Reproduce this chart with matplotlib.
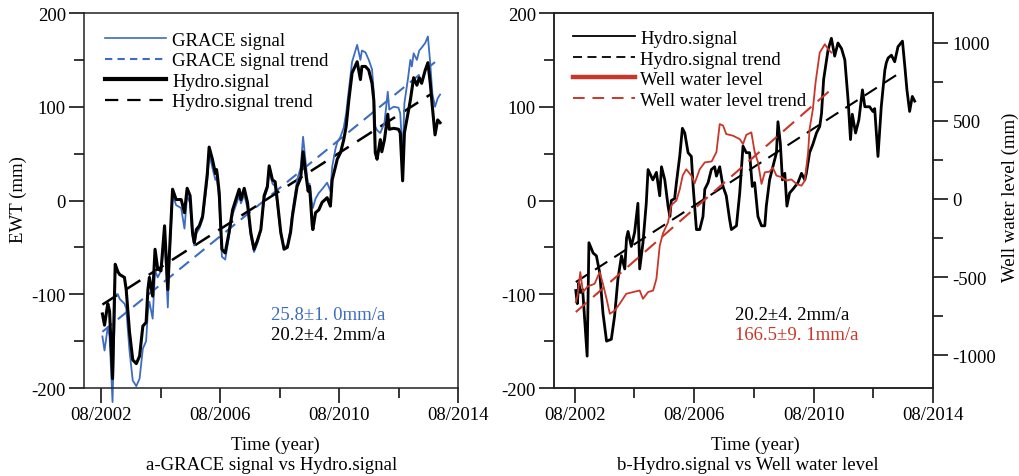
import matplotlib
matplotlib.use("Agg")
import matplotlib.pyplot as plt
from matplotlib.lines import Line2D
from matplotlib.ticker import FixedLocator, MultipleLocator

plt.rcParams['font.family'] = ['Liberation Serif', 'DejaVu Serif']
plt.rcParams['axes.unicode_minus'] = False

# ---- panel a: GRACE signal vs Hydro.signal (decimal years) ----
t_a = [2002.62, 2002.69, 2002.80, 2002.86, 2002.96, 2003.05, 2003.14, 2003.20, 2003.36, 2003.42,
       2003.53, 2003.64, 2003.76, 2003.87, 2003.98, 2004.09, 2004.15, 2004.20, 2004.31, 2004.39,
       2004.48, 2004.59, 2004.71, 2004.82, 2004.87, 2004.98, 2005.10, 2005.27, 2005.38, 2005.47,
       2005.57, 2005.65, 2005.71, 2005.78, 2005.88, 2005.99, 2006.15, 2006.21, 2006.32, 2006.42,
       2006.46, 2006.49, 2006.55, 2006.61, 2006.64, 2006.75, 2006.88, 2007.00, 2007.11, 2007.22,
       2007.28, 2007.39, 2007.50, 2007.61, 2007.72, 2007.83, 2007.95, 2008.06, 2008.17, 2008.23,
       2008.34, 2008.43, 2008.50, 2008.62, 2008.73, 2008.84, 2008.95, 2009.01, 2009.17, 2009.29,
       2009.37, 2009.46, 2009.54, 2009.59, 2009.68, 2009.70, 2009.79, 2009.90, 2010.01, 2010.18,
       2010.29, 2010.35, 2010.46, 2010.52, 2010.63, 2010.74, 2010.82, 2010.91, 2011.02, 2011.19,
       2011.30, 2011.35, 2011.47, 2011.58, 2011.69, 2011.75, 2011.80, 2011.86, 2011.97, 2012.02,
       2012.11, 2012.22, 2012.27, 2012.42, 2012.58, 2012.64, 2012.72, 2012.78, 2012.90, 2012.98,
       2013.03, 2013.09, 2013.20, 2013.28, 2013.36, 2013.48, 2013.57, 2013.65, 2013.72, 2013.81,
       2013.90, 2013.98]
hydro_a = [-121, -133, -110, -118, -190, -68, -76, -79, -82, -95,
           -140, -170, -174, -166, -134, -130, -95, -82, -102, -52,
           -73, -75, -27, -95, -59, 12, 1, 1, -13, 13,
           5, -34, -45, -31, -27, -17, 29, 57, 44, 29,
           33, 26, 8, -34, -52, -56, -34, -10, 1, 12,
           1, 13, -2, -34, -52, -43, -31, 5, 15, 37,
           22, 20, 1, -34, -52, -50, -34, -17, 15, 24,
           52, 29, 10, 15, -27, -31, -13, -10, -2, 3,
           -6, 22, 36, 44, 51, 65, 79, 107, 136, 148,
           129, 143, 143, 139, 125, 107, 51, 44, 65, 52,
           65, 92, 76, 77, 76, 72, 21, 72, 93, 107,
           118, 131, 123, 131, 125, 139, 147, 125, 100, 70,
           86, 83]
grace_a = [-145, -160, -135, -145, -215, -100, -100, -105, -110, -115,
           -160, -192, -198, -190, -158, -150, -118, -108, -126, -75,
           -82, -75, -41, -114, -66, 6, -5, -8, -30, 5,
           -3, -38, -48, -35, -30, -20, 22, 50, 35, 22,
           25, 18, 0, -40, -60, -63, -38, -15, -5, 5,
           -3, 6, -8, -38, -55, -46, -32, 2, 12, 33,
           18, 15, -3, -36, -50, -48, -30, -12, 22, 35,
           68, 40, 15, 18, -5, -8, 2, 8, 12, 19,
           10, 36, 55, 62, 68, 78, 93, 118, 148, 166,
           150, 160, 158, 150, 140, 115, 79, 75, 72, 76,
           83, 116, 97, 100, 99, 93, 47, 104, 130, 150,
           143, 157, 150, 160, 163, 168, 175, 146, 114, 100,
           109, 113]
grace_trend_t = [2002.62, 2013.98]
grace_trend_v = [-140, 152]
hydro_trend_a_t = [2002.62, 2013.65]
hydro_trend_a_v = [-111, 113]

# ---- panel b: Hydro.signal vs Well water level ----
t_b = [2002.62, 2002.67, 2002.72, 2002.78, 2002.85, 2003.00, 2003.06, 2003.20, 2003.31, 2003.42,
       2003.53, 2003.65, 2003.81, 2003.92, 2004.03, 2004.15, 2004.26, 2004.32, 2004.37, 2004.48,
       2004.59, 2004.70, 2004.76, 2004.87, 2004.98, 2005.04, 2005.20, 2005.32, 2005.43, 2005.49,
       2005.60, 2005.71, 2005.77, 2005.82, 2005.93, 2005.99, 2006.10, 2006.19, 2006.27, 2006.38,
       2006.49, 2006.55, 2006.66, 2006.77, 2006.88, 2006.94, 2007.05, 2007.16, 2007.27, 2007.33,
       2007.44, 2007.55, 2007.66, 2007.77, 2007.83, 2008.00, 2008.11, 2008.22, 2008.33, 2008.44,
       2008.53, 2008.61, 2008.72, 2008.84, 2008.95, 2009.00, 2009.11, 2009.22, 2009.34, 2009.39,
       2009.47, 2009.54, 2009.62, 2009.69, 2009.78, 2009.89, 2010.06, 2010.18, 2010.29, 2010.34,
       2010.45, 2010.56, 2010.68, 2010.79, 2010.85, 2010.92, 2011.07, 2011.18, 2011.29, 2011.40,
       2011.52, 2011.63, 2011.74, 2011.82, 2011.88, 2011.99, 2012.10, 2012.22, 2012.30, 2012.46,
       2012.57, 2012.63, 2012.74, 2012.85, 2012.97, 2013.02, 2013.08, 2013.19, 2013.30, 2013.41,
       2013.56, 2013.64, 2013.71, 2013.80, 2013.89, 2013.97]
hydro_b = [-96, -110, -88, -98, -95, -166, -45, -56, -59, -77,
           -120, -150, -148, -123, -84, -59, -73, -40, -33, -49,
           -34, -3, -73, -45, -3, 33, 22, 30, 5, 36,
           22, -6, -17, 0, 2, 19, 47, 77, 72, 51,
           47, 15, -31, -31, -17, 12, 19, 33, 36, 26,
           36, 15, 5, -20, -31, -27, 8, 58, 51, 51,
           15, 19, -17, -27, -27, -6, 22, 36, 51, 84,
           61, 22, 29, -6, 8, 12, 19, 29, 22, 29,
           51, 60, 72, 79, 93, 129, 161, 173, 154, 168,
           162, 150, 107, 65, 92, 72, 86, 118, 100, 100,
           95, 98, 47, 100, 139, 147, 152, 155, 148, 164,
           170, 143, 118, 95, 111, 106]
hydro_trend_b_t = [2002.62, 2013.56]
hydro_trend_b_v = [-87, 138]

t_well = [2002.62, 2002.68, 2002.77, 2002.86, 2003.02, 2003.25, 2003.42, 2003.53, 2003.65, 2003.76,
          2003.92, 2004.09, 2004.31, 2004.54, 2004.76, 2004.87, 2005.04, 2005.21, 2005.32, 2005.43,
          2005.54, 2005.71, 2005.82, 2005.99, 2006.10, 2006.20, 2006.32, 2006.49, 2006.60, 2006.77,
          2006.94, 2007.17, 2007.33, 2007.44, 2007.55, 2007.66, 2007.88, 2008.11, 2008.22, 2008.33,
          2008.50, 2008.61, 2008.72, 2008.84, 2008.95, 2009.11, 2009.22, 2009.34, 2009.50, 2009.67,
          2009.84, 2010.01, 2010.18, 2010.29, 2010.40, 2010.45, 2010.56, 2010.65, 2010.79, 2010.96,
          2011.07, 2011.18]
well = [-660, -618, -468, -596, -560, -543, -468, -545, -639, -735,
        -715, -671, -607, -596, -586, -639, -596, -586, -511, -300,
        -220, -149, -40, -10, 60, 150, 190, 149, 100, 190,
        234, 240, 300, 479, 470, 415, 405, 383, 351, 410,
        426, 300, 236, 96, 170, 175, 200, 149, 140, 117,
        125, 96, 85, 117, 298, 447, 575, 745, 937, 990,
        958, 937]
well_trend_t = [2002.62, 2011.18]
well_trend_v = [-724, 702]

x_major = [2002.583, 2006.583, 2010.583, 2014.583]
x_minor = [2004.583, 2008.583, 2012.583]
x_labels = ['08/2002', '08/2006', '08/2010', '08/2014']

BLUE = '#3d6cc0'
RED = '#c8372a'
FS = 13.5


def style_axes(ax, xlo):
    ax.set_xlim(xlo, 2014.583)
    ax.set_ylim(-200, 200)
    ax.xaxis.set_major_locator(FixedLocator(x_major))
    ax.xaxis.set_minor_locator(FixedLocator(x_minor))
    ax.set_xticklabels(x_labels)
    ax.yaxis.set_major_locator(MultipleLocator(100))
    ax.yaxis.set_minor_locator(MultipleLocator(50))
    ax.tick_params(which='major', direction='out', length=11, width=1.1, labelsize=FS, pad=2)
    ax.tick_params(which='minor', direction='out', length=7, width=1.1)
    ax.tick_params(axis='y', which='both', right=False)
    for s in ax.spines.values():
        s.set_linewidth(1.1)
        s.set_color('#222222')


fig = plt.figure(figsize=(10.19, 4.77), dpi=100)
ax1 = fig.add_axes([84 / 1019, 88 / 477, 374 / 1019, 375 / 477])
ax2 = fig.add_axes([554 / 1019, 88 / 477, 379 / 1019, 375 / 477])

# panel a
ax1.plot(grace_trend_t, grace_trend_v, color=BLUE, lw=1.5, dashes=(6, 3.5))
ax1.plot(hydro_trend_a_t, hydro_trend_a_v, color='black', lw=1.8, dashes=(7, 4))
ax1.plot(t_a, grace_a, color=BLUE, lw=1.3, clip_on=False)
ax1.plot(t_a, hydro_a, color='black', lw=2.2)
style_axes(ax1, 2002.0)
h1 = [Line2D([], [], color=BLUE, lw=1.2),
      Line2D([], [], color=BLUE, lw=1.5, dashes=(3.5, 2.5)),
      Line2D([], [], color='black', lw=3),
      Line2D([], [], color='black', lw=1.6, dashes=(6, 4))]
ax1.legend(h1, ['GRACE signal', 'GRACE signal trend', 'Hydro.signal', 'Hydro.signal trend'],
           loc='upper left', bbox_to_anchor=(0.055, 0.95), frameon=False, fontsize=FS,
           handlelength=3.3, handletextpad=0.3, labelspacing=0.18, borderpad=0, borderaxespad=0)
ax1.text(2008.28, -122, '25.8±1. 0mm/a', color=BLUE, fontsize=FS, va='center')
ax1.text(2008.28, -143, '20.2±4. 2mm/a', color='black', fontsize=FS, va='center')

# panel b
ax2.plot(hydro_trend_b_t, hydro_trend_b_v, color='black', lw=1.5, dashes=(7, 4))
ax2.plot(t_b, hydro_b, color='black', lw=2.0)
style_axes(ax2, 2001.89)
axr = ax2.twinx()
axr.plot(well_trend_t, well_trend_v, color=RED, lw=1.5, dashes=(7, 4))
axr.plot(t_well, well, color=RED, lw=1.3)
axr.set_ylim(-1210, 1190)
axr.yaxis.set_major_locator(MultipleLocator(500))
axr.yaxis.set_minor_locator(MultipleLocator(250))
axr.tick_params(which='major', direction='out', length=11, width=1.1, labelsize=FS, pad=3)
axr.tick_params(which='minor', direction='out', length=7, width=1.1)
for s in axr.spines.values():
    s.set_linewidth(1.1)
    s.set_color('#222222')
h2 = [Line2D([], [], color='black', lw=1.3),
      Line2D([], [], color='black', lw=1.3, dashes=(5, 3)),
      Line2D([], [], color=RED, lw=3.2),
      Line2D([], [], color=RED, lw=1.4, dashes=(6, 4))]
axr.legend(h2, ['Hydro.signal', 'Hydro.signal trend', 'Well water level', 'Well water level trend'],
           loc='upper left', bbox_to_anchor=(0.05, 0.955), frameon=False, fontsize=FS,
           handlelength=3.3, handletextpad=0.3, labelspacing=0.18, borderpad=0, borderaxespad=0)
ax2.text(2007.94, -122, '20.2±4. 2mm/a', color='black', fontsize=FS, va='center')
ax2.text(2007.94, -143, '166.5±9. 1mm/a', color=RED, fontsize=FS, va='center')

# labels
fig.text(18 / 1019, 1 - 200 / 477, 'EWT (mm)', rotation=90, ha='center', va='center', fontsize=FS)
fig.text(1010 / 1019, 1 - 197 / 477, 'Well water level (mm)', rotation=90, ha='center', va='center', fontsize=FS)
fig.text(275 / 1019, 1 - 445 / 477, 'Time (year)', ha='center', va='center', fontsize=FS)
fig.text(272 / 1019, 1 - 466 / 477, 'a-GRACE signal vs Hydro.signal', ha='center', va='center', fontsize=FS)
fig.text(755 / 1019, 1 - 445 / 477, 'Time (year)', ha='center', va='center', fontsize=FS)
fig.text(748 / 1019, 1 - 466 / 477, 'b-Hydro.signal vs Well water level', ha='center', va='center', fontsize=FS)

fig.savefig('out.png', dpi=100)
